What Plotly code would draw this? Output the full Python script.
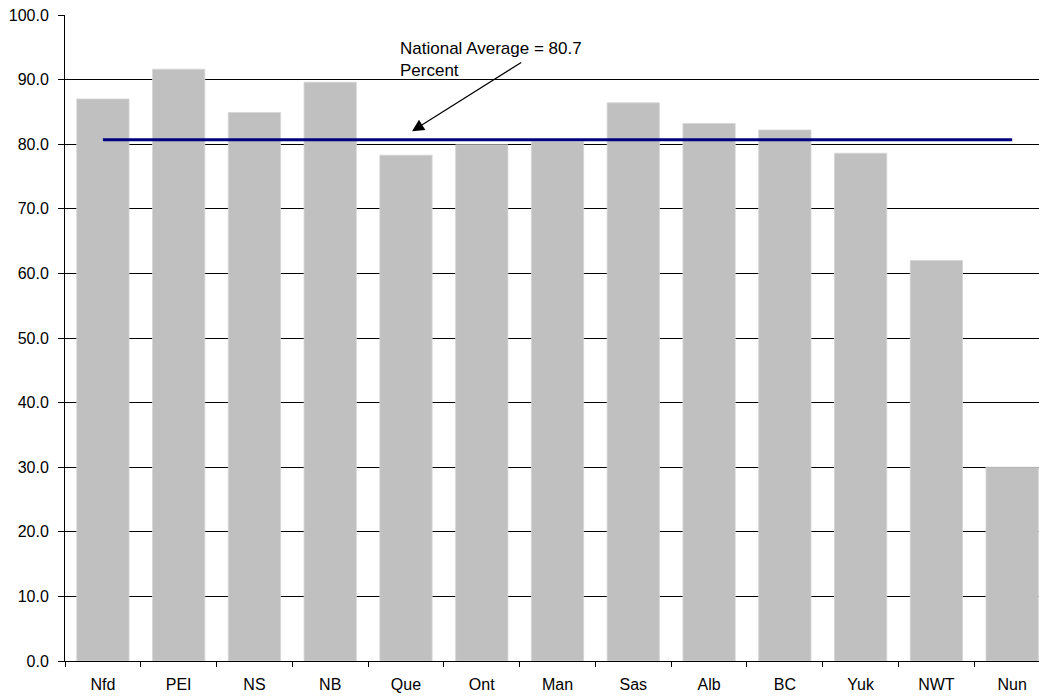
import plotly.graph_objects as go

# Share of population by province / territory (percent)
provinces = ["Nfd", "PEI", "NS", "NB", "Que", "Ont", "Man", "Sas", "Alb", "BC", "Yuk", "NWT", "Nun"]
percent = [87.0, 91.6, 84.9, 89.6, 78.3, 79.9, 80.4, 86.4, 83.2, 82.2, 78.6, 62.0, 30.0]
national_average = 80.7

FONT = "Liberation Sans, Arial, sans-serif"

fig = go.Figure()

fig.add_trace(go.Bar(
    x=provinces,
    y=percent,
    width=0.69,
    marker=dict(color="#c0c0c0", line=dict(color="#d4d4d4", width=0.8)),
    showlegend=False,
    hoverinfo="x+y",
))

# National average reference line across all provinces
fig.add_trace(go.Scatter(
    x=provinces,
    y=[national_average] * len(provinces),
    mode="lines",
    line=dict(color="#000080", width=3),
    showlegend=False,
    hoverinfo="skip",
))

fig.add_annotation(
    x=3.9, y=93.1, xref="x", yref="y",
    text=f"National Average = {national_average}<br>Percent",
    showarrow=False, xanchor="left", yanchor="middle", align="left",
    font=dict(family=FONT, size=17, color="black"),
)
fig.add_annotation(
    x=4.08, y=82.0, xref="x", yref="y",
    ax=5.54, ay=92.8, axref="x", ayref="y",
    text="", showarrow=True,
    arrowhead=2, arrowsize=2.0, arrowwidth=1.2, arrowcolor="black",
)

fig.update_layout(
    width=1039, height=696,
    margin=dict(l=65, r=0, t=15, b=35),
    paper_bgcolor="white", plot_bgcolor="white",
    font=dict(family=FONT, size=16, color="black"),
    bargap=0.31,
)

fig.update_xaxes(
    type="category",
    range=[-0.5, 12.354],
    showline=True, linecolor="black", linewidth=1,
    ticks="outside", ticklen=5, tickcolor="black", tickwidth=1,
    tickson="boundaries",
    showgrid=False,
    ticklabelstandoff=9,
    tickfont=dict(size=16),
)

fig.update_yaxes(
    range=[0, 100], dtick=10, tickformat=".1f",
    showline=True, linecolor="black", linewidth=1,
    ticks="outside", ticklen=6, tickcolor="black", tickwidth=1,
    showgrid=True, gridcolor="black", gridwidth=1,
    zeroline=False,
    ticklabelstandoff=6,
    tickfont=dict(size=16),
)

fig.write_html("out.html")
